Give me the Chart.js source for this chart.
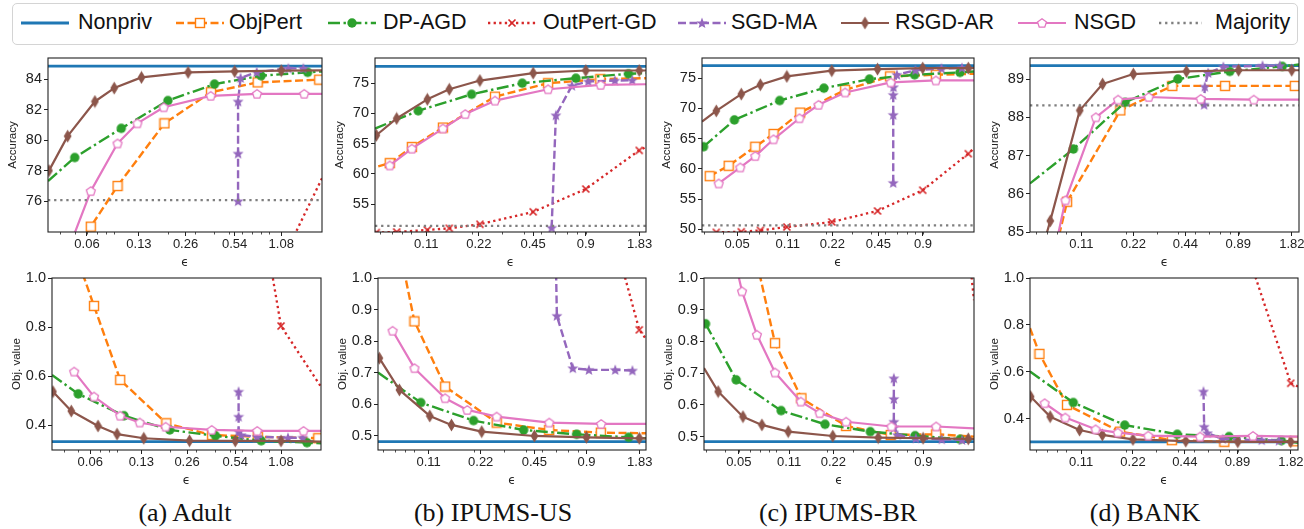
<!DOCTYPE html>
<html>
<head>
<meta charset="utf-8">
<script src="https://cdn.jsdelivr.net/npm/chart.js@4.4.1/dist/chart.umd.min.js"></script>
<style>
  body { margin: 0; width: 1304px; height: 529px; background: #fff; position: relative; overflow: hidden;
         font-family: 'Liberation Sans', Arial, sans-serif; color: #111; }
  canvas.pl { position: absolute; }
  #legendBox { position: absolute; left: 12px; top: 3px; width: 1286px; height: 42px; box-sizing: border-box;
               border: 1.5px solid #d4d4d4; border-radius: 5px; }
  .lgSym { position: absolute; top: 13px; }
  .lgTxt { position: absolute; top: 12px; font-size: 21.5px; line-height: 1; white-space: nowrap; }
  .cap { position: absolute; top: 500px; width: 300px; text-align: center; font-family: 'Liberation Serif', serif;
         font-size: 26px; line-height: 1; }
</style>
</head>
<body>
<div id="legendBox"></div>
<div id="legend"></div>
<div class="cap" style="left:35px">(a) Adult</div>
<div class="cap" style="left:343px">(b) IPUMS-US</div>
<div class="cap" style="left:688px">(c) IPUMS-BR</div>
<div class="cap" style="left:995px">(d) BANK</div>

<script>
// ---------- data ----------
// (a) Adult
const adultRangeX = [0.0336, 1.98];
const adultRangeAcc = [73.98, 85.38];
const adultRangeObj = [0.298, 1.0];
const adultTicksX = [0.06, 0.13, 0.26, 0.54, 1.08];
const adultTicksAcc = [76, 78, 80, 82, 84];
const adultTicksObj = [0.4, 0.6, 0.8, 1.0];
const adultNonpriv = [84.85, 0.332];
const adultMajority = 76.07;
const adultObjPertEps = [0.045, 0.0635, 0.0945, 0.19, 0.38, 0.76, 1.9, 1.98];
const adultObjPertAcc = [72.0, 74.33, 76.99, 81.1, 83.14, 83.78, 83.96, 83.97];
const adultObjPertObj = [1.15, 0.886, 0.584, 0.407, 0.359, 0.352, 0.346, 0.345];
const adultAgdEps = [0.0336, 0.05, 0.1, 0.2, 0.4, 0.8, 1.6, 1.98];
const adultAgdAcc = [77.32, 78.86, 80.77, 82.59, 83.67, 84.22, 84.44, 84.5];
const adultAgdObj = [0.604, 0.527, 0.438, 0.38, 0.356, 0.336, 0.328, 0.325];
const adultOutEps = [0.54, 1.08, 1.98];
const adultOutAcc = [60.0, 72.0, 77.5];
const adultOutObj = [1.9, 0.804, 0.556];
const adultSgdEps = [0.568, 0.568, 0.568, 0.59, 0.75, 1.2, 1.5];
const adultSgdAcc = [76.0, 79.12, 82.53, 84.07, 84.45, 84.7, 84.7];
const adultSgdObj = [0.536, 0.434, 0.373, 0.359, 0.352, 0.348, 0.348];
const adultRsgdEps = [0.0341, 0.045, 0.0675, 0.09, 0.135, 0.27, 0.54, 1.08, 1.98];
const adultRsgdAcc = [78.0, 80.26, 82.53, 83.41, 84.11, 84.44, 84.5, 84.55, 84.57];
const adultRsgdObj = [0.536, 0.457, 0.396, 0.363, 0.346, 0.336, 0.335, 0.335, 0.332];
const adultNsgdEps = [0.047, 0.0635, 0.0945, 0.127, 0.188, 0.378, 0.753, 1.52, 1.98];
const adultNsgdAcc = [73.2, 76.66, 79.78, 81.1, 82.15, 82.9, 83.03, 83.03, 83.03];
const adultNsgdObj = [0.618, 0.516, 0.438, 0.41, 0.393, 0.38, 0.376, 0.376, 0.376];

// (b) IPUMS-US
const usRangeX = [0.056, 1.99];
const usRangeAcc = [50.39, 79.17];
const usRangeObj = [0.4556, 1.0];
const usTicksX = [0.11, 0.22, 0.45, 0.9, 1.83];
const usTicksAcc = [55, 60, 65, 70, 75];
const usTicksObj = [0.5, 0.6, 0.7, 0.8, 0.9, 1.0];
const usNonpriv = [77.78, 0.482];
const usMajority = 51.39;
const usObjPertEps = [0.0505, 0.068, 0.091, 0.137, 0.272, 0.548, 1.09, 1.99];
const usObjPertAcc = [60.75, 61.78, 64.44, 67.67, 72.78, 75.0, 75.67, 75.83];
const usObjPertObj = [1.6, 1.2, 0.8626, 0.6564, 0.5423, 0.519, 0.5106, 0.5085];
const usAgdEps = [0.056, 0.099, 0.2, 0.39, 0.79, 1.58, 1.99];
const usAgdAcc = [67.5, 70.44, 73.17, 75.0, 75.83, 76.56, 76.67];
const usAgdObj = [0.7008, 0.6057, 0.5486, 0.519, 0.5053, 0.4958, 0.4926];
const usOutEps = [0.057, 0.0745, 0.1116, 0.149, 0.223, 0.45, 0.9, 1.82, 1.99];
const usOutAcc = [50.3, 50.4, 50.72, 51.0, 51.67, 53.72, 57.5, 63.89, 64.44];
const usOutObj = [5.0, 4.5, 4.0, 3.5, 3.0, 2.2, 1.45, 0.836, 0.8066];
const usSgdEps = [0.574, 0.607, 0.75, 0.93, 1.32, 1.66];
const usSgdAcc = [51.1, 69.7, 74.6, 75.3, 75.44, 75.5];
const usSgdObj = [1.6, 0.8805, 0.7146, 0.7093, 0.7093, 0.7072];
const usRsgdEps = [0.057, 0.0745, 0.1116, 0.149, 0.223, 0.45, 0.9, 1.82, 1.99];
const usRsgdAcc = [66.39, 69.17, 72.33, 74.0, 75.44, 76.67, 77.1, 77.1, 77.1];
const usRsgdObj = [0.7463, 0.6459, 0.5634, 0.5349, 0.5137, 0.5, 0.4958, 0.4926, 0.4926];
const usNsgdEps = [0.068, 0.091, 0.137, 0.184, 0.272, 0.548, 1.095, 1.99];
const usNsgdAcc = [61.39, 64.17, 67.5, 69.89, 72.11, 74.0, 74.72, 74.83];
const usNsgdObj = [0.833, 0.7146, 0.6195, 0.5824, 0.5613, 0.5423, 0.538, 0.538];

// (c) IPUMS-BR
const brRangeX = [0.029, 1.99];
const brRangeAcc = [49.56, 78.32];
const brRangeObj = [0.4579, 1.0];
const brTicksX = [0.05, 0.11, 0.22, 0.45, 0.9];
const brTicksAcc = [50, 55, 60, 65, 70, 75];
const brTicksObj = [0.5, 0.6, 0.7, 0.8, 0.9, 1.0];
const brNonpriv = [77.05, 0.4842];
const brMajority = 50.66;
const brObjPertEps = [0.0327, 0.0439, 0.0664, 0.0882, 0.1335, 0.2685, 0.54, 1.10, 1.99];
const brObjPertAcc = [58.79, 60.51, 63.66, 65.76, 69.3, 73.06, 75.28, 75.55, 75.72];
const brObjPertObj = [2.2, 1.6, 1.05, 0.7947, 0.621, 0.5337, 0.5053, 0.5074, 0.5];
const brAgdEps = [0.0297, 0.048, 0.097, 0.193, 0.392, 0.79, 1.6, 1.99];
const brAgdAcc = [63.66, 68.09, 71.29, 73.34, 74.83, 75.55, 75.94, 76.1];
const brAgdObj = [0.8558, 0.679, 0.582, 0.539, 0.5158, 0.5032, 0.4916, 0.4874];
const brOutEps = [0.0362, 0.0534, 0.0718, 0.1085, 0.218, 0.444, 0.897, 1.82, 1.99];
const brOutAcc = [49.5, 49.6, 49.83, 50.39, 51.22, 53.04, 56.47, 62.5, 63.39];
const brOutObj = [6.0, 5.5, 5.0, 4.5, 3.5, 2.5, 1.6, 1.1, 0.93];
const brSgdEps = [0.567, 0.567, 0.567, 0.569, 0.6, 0.8, 1.2, 1.65];
const brSgdAcc = [57.69, 68.92, 72.23, 73.5, 75.55, 76.3, 76.6, 76.7];
const brSgdObj = [0.684, 0.619, 0.547, 0.529, 0.505, 0.4947, 0.4916, 0.4895];
const brRsgdEps = [0.029, 0.0362, 0.0534, 0.0718, 0.1085, 0.218, 0.444, 0.897, 1.82, 1.99];
const brRsgdAcc = [67.81, 69.58, 72.35, 73.89, 75.28, 76.22, 76.49, 76.66, 76.66, 76.66];
const brRsgdObj = [0.716, 0.642, 0.563, 0.537, 0.516, 0.502, 0.497, 0.495, 0.493, 0.4926];
const brNsgdEps = [0.0376, 0.0526, 0.0664, 0.0882, 0.132, 0.1775, 0.2685, 0.546, 1.10, 1.99];
const brNsgdAcc = [57.58, 60.23, 62.11, 64.88, 68.36, 70.58, 72.62, 74.28, 74.61, 74.61];
const brNsgdObj = [1.25, 0.958, 0.821, 0.702, 0.6105, 0.574, 0.547, 0.532, 0.532, 0.526];

// (d) BANK
const bankRangeX = [0.0555, 2.0];
const bankRangeAcc = [85.0, 89.55];
const bankRangeObj = [0.268, 1.0];
const bankTicksX = [0.11, 0.22, 0.44, 0.89, 1.82];
const bankTicksAcc = [85, 86, 87, 88, 89];
const bankTicksObj = [0.4, 0.6, 0.8, 1.0];
const bankNonpriv = [89.35, 0.303];
const bankMajority = 88.31;
const bankObjPertEps = [0.0555, 0.063, 0.091, 0.185, 0.37, 0.747, 1.89];
const bankObjPertAcc = [81.7, 82.8, 85.79, 88.18, 88.82, 88.82, 88.82];
const bankObjPertObj = [0.787, 0.677, 0.46, 0.346, 0.31, 0.303, 0.305];
const bankAgdEps = [0.0555, 0.099, 0.197, 0.398, 0.795, 1.6, 2.0];
const bankAgdAcc = [86.27, 87.17, 88.39, 89.0, 89.2, 89.33, 89.38];
const bankAgdObj = [0.602, 0.47, 0.374, 0.335, 0.325, 0.308, 0.299];
const bankOutEps = [0.894, 1.815, 2.0];
const bankOutAcc = [null, null, null];
const bankOutObj = [1.23, 0.552, 0.538];
const bankSgdEps = [0.565, 0.57, 0.596, 0.73, 1.23, 1.55];
const bankSgdAcc = [88.33, 88.8, 89.16, 89.32, 89.35, 89.35];
const bankSgdObj = [0.517, 0.367, 0.34, 0.315, 0.31, 0.308];
const bankRsgdEps = [0.056, 0.0727, 0.1077, 0.146, 0.22, 0.446, 0.894, 1.815, 2.0];
const bankRsgdAcc = [83.5, 85.29, 88.18, 88.87, 89.13, 89.2, 89.23, 89.23, 89.23];
const bankRsgdObj = [0.495, 0.41, 0.353, 0.332, 0.313, 0.306, 0.303, 0.303, 0.303];
const bankNsgdEps = [0.0675, 0.089, 0.1335, 0.1795, 0.27, 0.54, 1.095, 2.0];
const bankNsgdAcc = [83.3, 85.83, 88.0, 88.46, 88.53, 88.48, 88.46, 88.46];
const bankNsgdObj = [0.467, 0.406, 0.356, 0.342, 0.329, 0.325, 0.328, 0.325];

// ---------- styles ----------
Chart.defaults.font.family = "'Liberation Sans', Arial, sans-serif";
Chart.defaults.color = '#222';

const C = { blue: '#1f77b4', orange: '#ff7f0e', green: '#2ca02c', red: '#d62728',
            purple: '#9467bd', brown: '#8c564b', pink: '#e377c2', gray: '#7f7f7f' };

function makeMarker(kind, color) {
  const c = document.createElement('canvas');
  let w = 12, h = 12;
  if (kind === 'diamond') { w = 9; h = 14; }
  c.width = w; c.height = h;
  const g = c.getContext('2d');
  const cx = w / 2, cy = h / 2;
  g.fillStyle = color; g.strokeStyle = color;
  if (kind === 'square') {
    g.fillStyle = '#fff'; g.fillRect(1.5, 1.5, 9, 9);
    g.lineWidth = 1.4; g.strokeRect(1.5, 1.5, 9, 9);
  } else if (kind === 'circle') {
    g.beginPath(); g.arc(cx, cy, 4.7, 0, 2 * Math.PI); g.fill();
  } else if (kind === 'x') {
    g.lineWidth = 1.7; g.beginPath();
    g.moveTo(2.5, 2.5); g.lineTo(9.5, 9.5); g.moveTo(9.5, 2.5); g.lineTo(2.5, 9.5); g.stroke();
  } else if (kind === 'star') {
    g.beginPath();
    for (let k = 0; k < 10; k++) {
      const r = k % 2 ? 2.5 : 5.8;
      const a = -Math.PI / 2 + k * Math.PI / 5;
      const px = cx + r * Math.cos(a), py = cy + 0.4 + r * Math.sin(a);
      k ? g.lineTo(px, py) : g.moveTo(px, py);
    }
    g.closePath(); g.fill();
  } else if (kind === 'diamond') {
    g.beginPath(); g.moveTo(cx, 0.4); g.lineTo(w - 0.6, cy); g.lineTo(cx, h - 0.4); g.lineTo(0.6, cy);
    g.closePath(); g.fill();
  } else if (kind === 'pentagon') {
    g.beginPath();
    for (let k = 0; k < 5; k++) {
      const a = -Math.PI / 2 + k * 2 * Math.PI / 5;
      const px = cx + 4.7 * Math.cos(a), py = cy + 0.4 + 4.7 * Math.sin(a);
      k ? g.lineTo(px, py) : g.moveTo(px, py);
    }
    g.closePath(); g.fillStyle = '#fff'; g.fill(); g.lineWidth = 1.3; g.stroke();
  }
  return c;
}

// index 0..7 follows the plotting order of the original (Nonpriv first, Majority last)
const STYLES = [
  { name: 'Nonpriv', color: C.blue, width: 2.8, dash: [] },
  { name: 'ObjPert', color: C.orange, width: 2.4, dash: [8, 3.5], marker: makeMarker('square', C.orange) },
  { name: 'DP-AGD', color: C.green, width: 2.4, dash: [12, 3.5, 2.4, 3.5], marker: makeMarker('circle', C.green) },
  { name: 'OutPert-GD', color: C.red, width: 2.3, dash: [2.3, 3.3], marker: makeMarker('x', C.red) },
  { name: 'SGD-MA', color: C.purple, width: 2.4, dash: [8, 3.5], marker: makeMarker('star', C.purple) },
  { name: 'RSGD-AR', color: C.brown, width: 2.2, dash: [], marker: makeMarker('diamond', C.brown) },
  { name: 'NSGD', color: C.pink, width: 2.2, dash: [], marker: makeMarker('pentagon', C.pink) },
  { name: 'Majority', color: C.gray, width: 2.3, dash: [2.3, 3.8] }
];

// frame + log minor ticks, drawn over the lines like matplotlib spines
const framePlugin = {
  id: 'frame',
  afterDatasetsDraw(chart) {
    const { ctx, chartArea: a } = chart;
    const x = chart.scales.x;
    ctx.save();
    ctx.strokeStyle = '#222';
    ctx.lineWidth = 1.1;
    ctx.strokeRect(a.left, a.top, a.right - a.left, a.bottom - a.top);
    ctx.lineWidth = 0.8;
    ctx.beginPath();
    for (let k = -2; k <= 0; k++) {
      for (let n = 2; n <= 9; n++) {
        const v = n * Math.pow(10, k);
        if (v <= x.min || v >= x.max) continue;
        const px = Math.round(x.getPixelForValue(v)) + 0.5;
        ctx.moveTo(px, a.bottom);
        ctx.lineTo(px, a.bottom + 2.5);
      }
    }
    ctx.stroke();
    ctx.restore();
  }
};

function lineSet(idx, eps, vals, xr) {
  const s = STYLES[idx];
  return {
    data: eps.map((x, i) => ({ x: x, y: vals[i] })),
    borderColor: s.color,
    backgroundColor: s.color,
    borderWidth: s.width,
    borderDash: s.dash,
    borderCapStyle: 'butt',
    borderJoinStyle: 'round',
    pointStyle: s.marker || 'circle',
    pointRadius: c => (s.marker && c.raw && c.raw.x > xr[0] * 1.0005 && c.raw.x < xr[1] * 0.9995) ? 4 : 0,
    pointHoverRadius: 0,
    tension: 0,
    fill: false,
    clip: 0,
    order: 10 - idx
  };
}

function drawPanel(area, xr, xTicks, yr, yTicks, yTitle, isObj, nonpriv, majority, series) {
  const [L, R, T, B] = area;
  const cv = document.createElement('canvas');
  const w = (R - L) + 48 + 16, h = (B - T) + 10 + 40;
  cv.width = w; cv.height = h;
  cv.className = 'pl';
  cv.style.left = (L - 48) + 'px';
  cv.style.top = (T - 10) + 'px';
  cv.style.width = w + 'px';
  cv.style.height = h + 'px';
  document.body.appendChild(cv);

  const datasets = [lineSet(0, xr, [nonpriv, nonpriv], xr)];
  series.forEach(([idx, eps, vals]) => datasets.push(lineSet(idx, eps, vals, xr)));
  if (majority !== null) datasets.push(lineSet(7, xr, [majority, majority], xr));

  new Chart(cv.getContext('2d'), {
    type: 'line',
    data: { datasets: datasets },
    options: {
      responsive: false,
      animation: false,
      devicePixelRatio: 1,
      events: [],
      layout: { padding: { left: 0, top: 10, right: 16, bottom: 0 } },
      plugins: { legend: { display: false }, tooltip: { enabled: false } },
      scales: {
        x: {
          type: 'logarithmic', min: xr[0], max: xr[1],
          afterBuildTicks: s => { s.ticks = xTicks.map(v => ({ value: v })); },
          afterFit: s => { s.height = 40; s.paddingLeft = 0; s.paddingRight = 0; },
          ticks: { autoSkip: false, maxRotation: 0, padding: 1, font: { size: 13 }, color: '#222',
                   callback: v => String(v) },
          grid: { drawOnChartArea: false, tickLength: 4, tickColor: '#222', tickWidth: 1 },
          border: { display: false },
          title: { display: true, text: 'ϵ', font: { size: 12, family: "'DejaVu Sans', sans-serif" },
                   color: '#222', padding: { top: 0, bottom: 2 } }
        },
        y: {
          type: 'linear', min: yr[0], max: yr[1],
          afterBuildTicks: s => { s.ticks = yTicks.map(v => ({ value: v })); },
          afterFit: s => { s.width = 48; s.paddingTop = 0; s.paddingBottom = 0; },
          ticks: { autoSkip: false, padding: 2, font: { size: 14.5 }, color: '#222',
                   callback: v => isObj ? v.toFixed(1) : String(v) },
          grid: { drawOnChartArea: false, tickLength: 4, tickColor: '#222', tickWidth: 1 },
          border: { display: false },
          title: { display: true, text: yTitle, font: { size: 11.5 }, color: '#222',
                   padding: { top: 6, bottom: 0 } }
        }
      }
    },
    plugins: [framePlugin]
  });
}

// layout of the eight axes boxes: [left, right, top, bottom]
const topCols = [[48, 322], [375, 646], [702, 974], [1030, 1299]];
const botCols = [[52, 321], [378, 646], [704, 974], [1030, 1298]];
const topRow = [58, 232], botRow = [278, 450];

const panels = [
  [adultRangeX, adultTicksX, adultRangeAcc, adultTicksAcc, adultRangeObj, adultTicksObj, adultNonpriv, adultMajority,
   [[1, adultObjPertEps, adultObjPertAcc, adultObjPertObj], [2, adultAgdEps, adultAgdAcc, adultAgdObj],
    [3, adultOutEps, adultOutAcc, adultOutObj], [4, adultSgdEps, adultSgdAcc, adultSgdObj],
    [5, adultRsgdEps, adultRsgdAcc, adultRsgdObj], [6, adultNsgdEps, adultNsgdAcc, adultNsgdObj]]],
  [usRangeX, usTicksX, usRangeAcc, usTicksAcc, usRangeObj, usTicksObj, usNonpriv, usMajority,
   [[1, usObjPertEps, usObjPertAcc, usObjPertObj], [2, usAgdEps, usAgdAcc, usAgdObj],
    [3, usOutEps, usOutAcc, usOutObj], [4, usSgdEps, usSgdAcc, usSgdObj],
    [5, usRsgdEps, usRsgdAcc, usRsgdObj], [6, usNsgdEps, usNsgdAcc, usNsgdObj]]],
  [brRangeX, brTicksX, brRangeAcc, brTicksAcc, brRangeObj, brTicksObj, brNonpriv, brMajority,
   [[1, brObjPertEps, brObjPertAcc, brObjPertObj], [2, brAgdEps, brAgdAcc, brAgdObj],
    [3, brOutEps, brOutAcc, brOutObj], [4, brSgdEps, brSgdAcc, brSgdObj],
    [5, brRsgdEps, brRsgdAcc, brRsgdObj], [6, brNsgdEps, brNsgdAcc, brNsgdObj]]],
  [bankRangeX, bankTicksX, bankRangeAcc, bankTicksAcc, bankRangeObj, bankTicksObj, bankNonpriv, bankMajority,
   [[1, bankObjPertEps, bankObjPertAcc, bankObjPertObj], [2, bankAgdEps, bankAgdAcc, bankAgdObj],
    [3, bankOutEps, bankOutAcc, bankOutObj], [4, bankSgdEps, bankSgdAcc, bankSgdObj],
    [5, bankRsgdEps, bankRsgdAcc, bankRsgdObj], [6, bankNsgdEps, bankNsgdAcc, bankNsgdObj]]]
];

panels.forEach((p, i) => {
  const [xr, xt, accR, accT, objR, objT, np, maj, ser] = p;
  drawPanel([topCols[i][0], topCols[i][1], topRow[0], topRow[1]], xr, xt, accR, accT, 'Accuracy', false,
            np[0], maj, ser.map(s => [s[0], s[1], s[2]]));
  drawPanel([botCols[i][0], botCols[i][1], botRow[0], botRow[1]], xr, xt, objR, objT, 'Obj. value', true,
            np[1], null, ser.map(s => [s[0], s[1], s[3]]));
});

// ---------- legend ----------
const legendPos = [[20, 78], [175, 229], [327, 383], [487, 543], [677, 731], [840, 895], [1017, 1074], [1158, 1215]];
const legend = document.getElementById('legend');
STYLES.forEach((s, i) => {
  const sym = document.createElement('canvas');
  sym.width = 50; sym.height = 20;
  sym.className = 'lgSym';
  sym.style.left = legendPos[i][0] + 'px';
  const g = sym.getContext('2d');
  g.strokeStyle = s.color; g.lineWidth = s.width; g.lineCap = 'butt';
  g.setLineDash(s.dash);
  g.beginPath(); g.moveTo(1, 10); g.lineTo(i === 7 ? 44 : 49, 10); g.stroke();
  if (s.marker) g.drawImage(s.marker, 25 - s.marker.width / 2, 10 - s.marker.height / 2);
  legend.appendChild(sym);
  const t = document.createElement('div');
  t.className = 'lgTxt';
  t.style.left = legendPos[i][1] + 'px';
  t.textContent = s.name;
  legend.appendChild(t);
});
</script>
</body>
</html>
